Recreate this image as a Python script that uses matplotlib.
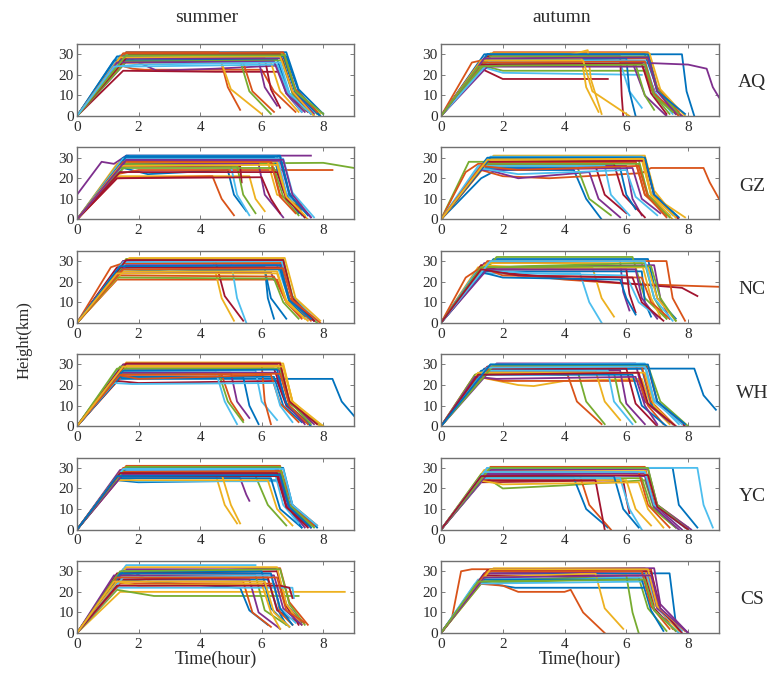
import matplotlib
matplotlib.use("Agg")
import matplotlib.pyplot as plt

# each track: t0,h0, t1,h1, ... (hours, km); (0,0) is prepended when the track starts later
AQ_SUMMER = [
    [1.6, 31, 6.8, 31, 7.2, 13, 8.0, 1],
    [1.3, 25, 1.8, 23, 2.2, 22.5, 6.0, 22.5, 6.4, 12, 7.1, 2],
    [1.7, 30.5, 6.7, 30.5, 7.1, 12, 7.9, 1],
    [1.7, 28, 2.6, 22, 4.5, 23, 6.5, 24.5, 6.8, 11, 7.3, 2],
    [1.5, 30, 6.75, 30, 7.1, 12, 7.8, 1],
    [1.4, 29.5, 6.6, 29.5, 7.0, 12, 7.7, 2],
    [1.5, 22, 4.5, 21.5, 6.6, 21.5, 6.9, 10, 7.5, 2],
    [1.6, 29, 6.7, 29, 7.1, 11, 7.9, 0],
    [1.6, 31, 4.6, 31, 4.9, 14, 5.3, 3],
    [1.5, 29, 4.6, 30, 5.0, 13, 6.0, 1],
    [1.6, 27, 5.9, 27, 6.1, 14, 6.5, 5],
    [1.4, 27, 5.3, 27, 5.6, 12, 6.3, 1],
    [1.3, 28, 6.6, 28.5, 7.0, 11, 7.6, 2],
    [1.4, 28, 6.1, 28, 6.3, 13, 6.6, 4],
    [1.2, 27, 6.5, 27.5, 6.9, 11, 7.5, 3],
    [1.5, 26, 5.4, 26, 5.7, 12, 6.4, 2],
    [1.5, 26, 6.3, 26, 6.6, 12, 7.2, 2],
    [1.5, 28, 6.65, 28, 7.0, 12, 7.7, 1],
    [1.6, 26.5, 6.7, 27, 7.0, 11, 7.4, 3],
    [1.3, 25, 1.6, 24, 6.5, 25, 6.9, 10, 7.3, 2],
    [1.7, 30, 6.6, 30, 7.0, 12, 7.6, 1],
    [1.3, 29, 6.8, 29, 7.2, 12, 7.9, 0],
    [1.5, 30.5, 6.7, 31, 7.1, 13, 7.8, 2],
    [1.4, 28.5, 6.6, 29, 7.0, 12, 7.7, 0],
    [1.3, 26, 6.4, 26.5, 6.8, 11, 7.4, 2],
    [1.6, 29.5, 6.75, 29.5, 7.1, 12, 8.0, 1],
    [1.2, 24, 2.0, 25, 6.6, 26, 6.9, 11, 7.6, 1],
]
AQ_AUTUMN = [
    [1.5, 30, 7.8, 30, 7.95, 12, 8.2, 0],
    [1.7, 31, 6.7, 31, 7.0, 14, 7.7, 2],
    [1.6, 30.5, 6.75, 30.5, 7.1, 13, 7.9, 0],
    [1.3, 26, 6.3, 26, 8.0, 25, 8.6, 23, 8.8, 14, 9.0, 9],
    [1.2, 25, 2.0, 22, 6.6, 22, 6.9, 10, 7.4, 1],
    [1.3, 24, 2.0, 21, 6.5, 20],
    [1.3, 23, 2.0, 18, 5.4, 18],
    [1.4, 30, 6.6, 30, 7.0, 13, 7.6, 1],
    [1.0, 26, 1.3, 27, 6.7, 28, 7.0, 12, 7.8, 0],
    [1.5, 27, 4.0, 29, 4.75, 32, 4.85, 18, 5.2, 1],
    [1.5, 26, 6.2, 26, 6.6, 10, 7.3, 0],
    [1.4, 25, 6.3, 25, 6.6, 10, 6.9, 3],
    [1.3, 26, 5.8, 26, 6.1, 12, 6.5, 4],
    [1.5, 29, 5.8, 29, 5.85, 10, 5.9, 0],
    [1.4, 27, 6.0, 28, 6.1, 12, 6.3, 0],
    [1.3, 25, 6.5, 25, 6.9, 10, 7.6, 1],
    [1.4, 28, 4.55, 28, 4.7, 14, 5.1, 2],
    [1.5, 24, 6.6, 24, 7.0, 9, 7.8, 0],
    [1.6, 29, 6.7, 29, 7.0, 13, 7.7, 1],
    [1.6, 27, 6.6, 27, 6.9, 12, 7.5, 1],
    [1.2, 25, 6.5, 25.5, 6.8, 11, 7.3, 1],
    [1.5, 30, 6.7, 30, 7.0, 12, 7.9, 1],
    [1.3, 26, 6.6, 26.5, 6.9, 11, 7.7, 0],
    [1.3, 27, 4.6, 27, 4.9, 12, 6.1, 0],
    [1.4, 28, 6.7, 28.5, 7.0, 12, 7.6, 1],
    [1.2, 24, 2.0, 24.5, 6.6, 25, 6.9, 10, 7.5, 2],
]
GZ_SUMMER = [
    [1.5, 25, 2.3, 22, 4.9, 24, 5.1, 12, 5.5, 4],
    [1.3, 22, 2.0, 24, 8.3, 24],
    [1.3, 21, 5.6, 21, 5.8, 10, 6.1, 4],
    [0, 12, 0.8, 28, 1.2, 27, 1.6, 31, 7.6, 31],
    [1.7, 28, 3.0, 27, 8.0, 27.5, 9.0, 25],
    [1.4, 26, 5.0, 26, 5.2, 12, 5.6, 2],
    [1.4, 26, 5.3, 26, 5.35, 18],
    [1.6, 31, 6.6, 31, 6.9, 13, 7.4, 1],
    [1.3, 20, 4.4, 21, 4.7, 10, 5.1, 2],
    [1.3, 27, 6.2, 28, 6.5, 12, 7.3, 7],
    [1.5, 27, 5.9, 27, 6.1, 12, 6.7, 1],
    [1.5, 27, 5.2, 26, 5.4, 12, 5.8, 3],
    [1.7, 30.5, 6.5, 30.5, 6.8, 13, 7.3, 2],
    [1.3, 20, 6.0, 20.5, 6.3, 10, 6.6, 3],
    [1.5, 30, 6.4, 30, 6.7, 14, 7.2, 3],
    [1.6, 29, 6.3, 29, 6.6, 12, 7.3, 5],
    [1.4, 28, 6.5, 28, 6.8, 11, 7.5, 0],
    [1.6, 28.5, 6.6, 28.5, 6.9, 12, 7.6, 1],
    [1.4, 25, 6.4, 25, 6.7, 11, 7.2, 2],
    [1.5, 29.5, 6.7, 29.5, 7.0, 13, 7.7, 1],
    [1.4, 23, 6.5, 23, 6.8, 10, 7.4, 1],
    [1.6, 30.5, 6.6, 30.5, 6.9, 12, 7.5, 2],
    [1.5, 28, 6.3, 28, 6.6, 11, 7.1, 3],
    [1.4, 26, 6.5, 26.5, 6.8, 11, 7.4, 2],
    [1.6, 29, 6.7, 29, 7.0, 12, 7.6, 1],
]
GZ_AUTUMN = [
    [1.3, 20, 1.8, 24, 4.3, 24, 4.7, 10, 5.2, 0],
    [1.3, 24, 2.0, 21, 3.5, 20, 6.5, 22.5, 6.8, 25, 8.5, 25, 8.7, 18, 9.0, 10],
    [1.7, 31, 6.6, 31, 6.9, 14, 7.6, 1],
    [1.3, 25, 2.5, 20, 4.8, 23, 5.1, 10, 5.8, 1],
    [0.9, 28, 1.3, 28, 6.4, 29, 6.7, 12, 7.4, 2],
    [1.6, 30.5, 6.5, 30.5, 6.8, 13, 7.5, 2],
    [1.3, 26, 5.0, 26, 5.3, 12, 6.0, 3],
    [1.5, 30, 6.6, 30, 6.9, 12, 7.7, 1],
    [0.8, 23, 1.2, 27, 6.3, 28, 6.6, 12, 7.3, 3],
    [1.6, 29.5, 6.5, 29.5, 6.8, 12, 7.9, 1],
    [1.4, 26, 6.0, 26, 6.2, 10, 6.5, 2],
    [1.4, 26, 4.4, 26, 4.8, 10, 5.5, 2],
    [1.2, 26, 5.3, 26, 5.5, 12, 6.1, 2],
    [1.4, 27, 5.6, 27, 5.9, 12, 6.6, 1],
    [1.3, 25, 5.8, 25, 6.0, 12, 6.3, 5],
    [1.5, 28, 6.3, 28, 6.6, 12, 7.3, 2],
    [1.6, 29, 6.5, 29, 6.8, 12, 7.5, 0],
    [1.3, 24, 6.2, 25, 6.5, 10, 7.1, 3],
    [1.4, 27, 6.4, 27, 6.7, 11, 7.4, 1],
    [1.2, 25, 2.5, 22, 6.0, 24, 6.3, 11, 7.0, 2],
    [1.5, 28, 6.6, 28.5, 6.9, 12, 7.7, 0],
    [1.6, 30, 6.6, 30, 6.9, 12, 7.6, 2],
    [1.3, 26, 2.5, 24, 6.4, 26, 6.7, 11, 7.3, 1],
    [1.5, 29, 6.55, 29.5, 6.8, 12, 7.6, 1],
]
NC_SUMMER = [
    [1.4, 27, 6.1, 27, 6.2, 12, 6.4, 2],
    [1.3, 21, 6.5, 21, 6.8, 10, 7.3, 2],
    [1.6, 31, 4.4, 31, 4.7, 12, 5.1, 1],
    [1.4, 24, 6.3, 24.5, 6.4, 21],
    [1.6, 31, 6.7, 31, 7.0, 13, 7.7, 2],
    [1.5, 30, 5.0, 30, 5.2, 12, 5.5, 0],
    [1.5, 30, 4.5, 30, 4.8, 13, 5.4, 1],
    [1.4, 26, 6.1, 26, 6.3, 12, 6.8, 2],
    [1.4, 23, 6.4, 22.5, 6.8, 10, 7.3, 3],
    [1.7, 31.5, 6.75, 31.5, 7.1, 12, 7.9, 1],
    [1.5, 30, 6.6, 30, 7.0, 12, 7.6, 2],
    [1.6, 29, 6.7, 29, 7.0, 11, 7.8, 0],
    [1.4, 28, 6.5, 28, 6.9, 11, 7.5, 2],
    [1.3, 27, 6.6, 27, 6.9, 12, 7.7, 1],
    [1.5, 26, 3.0, 25, 6.6, 26, 6.9, 10, 7.4, 3],
    [1.1, 27, 1.5, 29, 6.6, 29, 6.9, 12, 7.6, 1],
    [1.5, 25, 6.5, 25, 6.8, 11, 7.4, 2],
    [1.6, 28, 6.7, 28, 7.0, 11, 7.7, 1],
    [1.3, 22, 6.4, 21.5, 6.7, 10, 7.2, 2],
    [1.5, 29.5, 6.65, 30, 7.0, 12, 7.8, 1],
    [1.6, 30.5, 6.7, 30.5, 7.0, 12, 7.7, 1],
    [1.4, 27.5, 6.6, 28, 6.9, 11, 7.6, 2],
    [1.5, 26, 6.7, 26.5, 7.0, 11, 7.9, 0],
    [1.3, 24, 6.5, 24, 6.8, 10, 7.5, 1],
]
NC_AUTUMN = [
    [1.7, 31, 6.7, 31, 7.0, 12, 7.6, 2],
    [1.3, 28, 2.0, 24, 4.0, 21, 6.0, 19, 9.0, 17.5],
    [1.2, 27, 4.9, 27, 5.2, 12, 5.6, 3],
    [1.4, 29, 5.8, 30, 5.9, 15, 6.1, 6],
    [1.8, 32, 6.2, 32, 6.6, 12, 7.3, 2],
    [1.3, 24, 4.5, 24, 4.8, 10, 5.2, 0],
    [1.3, 28, 2.2, 24, 4.5, 21, 7.8, 17, 8.3, 13],
    [1.4, 25, 6.5, 25, 6.6, 10, 6.8, 3],
    [1.5, 30, 7.3, 30, 7.5, 12, 7.9, 1],
    [1.5, 29, 6.5, 29, 6.8, 12, 7.1, 3],
    [1.3, 27, 6.9, 28, 7.1, 12, 7.4, 2],
    [1.3, 27, 6.6, 29, 6.9, 12, 7.3, 2],
    [1.2, 26, 3.0, 24, 6.0, 23, 6.4, 10, 7.0, 3],
    [1.3, 26, 6.0, 26, 6.1, 14, 6.3, 5],
    [1.2, 25, 2.0, 22, 5.8, 21, 6.0, 12, 6.3, 4],
    [0.8, 22, 1.3, 27, 2.0, 23, 6.5, 22, 6.8, 10, 7.4, 2],
    [1.4, 28, 3.5, 26, 6.7, 27, 7.0, 12, 7.6, 1],
    [1.5, 26, 6.3, 26, 6.5, 12, 7.0, 2],
    [1.3, 27, 6.8, 27.5, 7.1, 12, 7.6, 1],
    [1.6, 30, 6.6, 30, 6.9, 12, 7.5, 1],
    [1.3, 26, 2.5, 23, 6.2, 22, 6.5, 10, 7.2, 1],
]
WH_SUMMER = [
    [1.3, 23, 6.7, 23, 8.3, 23, 8.6, 12, 9.0, 5],
    [1.5, 25, 4.7, 25, 5.0, 12, 5.4, 3],
    [1.6, 31, 6.6, 31, 6.9, 13, 7.6, 2],
    [1.4, 26, 5.0, 26, 5.2, 12, 5.6, 4],
    [1.4, 26, 4.6, 26, 4.9, 12, 5.4, 2],
    [1.3, 27, 5.8, 27, 6.0, 12, 6.5, 3],
    [1.3, 22, 2.0, 21, 6.5, 22, 6.8, 10, 7.4, 2],
    [1.4, 24, 5.4, 24, 5.6, 10, 5.9, 1],
    [1.5, 30, 6.0, 30, 6.1, 12, 6.3, 1],
    [1.7, 30.5, 6.7, 30.5, 7.0, 12, 7.9, 0],
    [1.5, 30, 6.5, 30, 6.9, 12, 7.7, 1],
    [1.4, 29, 6.6, 29, 6.9, 11, 8.0, 0],
    [1.3, 27, 4.5, 27, 4.8, 12, 5.2, 1],
    [1.4, 28, 6.4, 28, 6.8, 11, 7.5, 2],
    [1.4, 24, 6.4, 24, 6.7, 10, 7.3, 2],
    [1.3, 25, 2.0, 23, 6.3, 25, 6.6, 11, 7.2, 2],
    [1.6, 29.5, 6.7, 29.5, 7.0, 12, 7.8, 1],
    [1.4, 26, 6.5, 26, 6.8, 11, 7.4, 1],
    [1.3, 28, 6.6, 28, 6.9, 12, 7.6, 1],
    [1.2, 21, 1.8, 20.5, 6.4, 21, 6.6, 10, 7.0, 2],
    [1.6, 30.5, 6.6, 30.5, 6.9, 12, 7.8, 1],
    [1.5, 27, 6.5, 27.5, 6.8, 11, 7.6, 0],
    [1.4, 25, 6.6, 25.5, 6.9, 10, 7.5, 1],
    [1.5, 29, 6.7, 29, 7.0, 12, 8.0, 0],
]
WH_AUTUMN = [
    [1.4, 28, 6.8, 28, 8.2, 28, 8.5, 15, 8.9, 8],
    [1.1, 25, 2.0, 26, 4.1, 25, 4.4, 12, 5.2, 1],
    [1.2, 24, 2.5, 20, 3.0, 19.5, 4.0, 22, 6.5, 23, 6.8, 10, 7.4, 1],
    [1.8, 30.5, 6.3, 30.5, 6.6, 12, 7.4, 2],
    [1.1, 25, 1.6, 28, 4.4, 28, 4.7, 12, 5.3, 1],
    [1.6, 30, 6.6, 30.5, 6.9, 13, 7.7, 1],
    [1.5, 29, 6.7, 29, 7.0, 12, 7.9, 0],
    [1.3, 27, 6.5, 28, 6.8, 11, 7.5, 1],
    [1.2, 24, 2.0, 22, 6.4, 22, 6.7, 10, 7.2, 1],
    [1.3, 26, 5.0, 27, 5.3, 12, 5.8, 3],
    [1.4, 27, 5.8, 27, 6.0, 11, 6.6, 1],
    [1.3, 26, 5.6, 26, 5.8, 12, 6.3, 2],
    [1.4, 27, 5.4, 27, 5.6, 12, 6.2, 1],
    [1.5, 28, 6.0, 28, 6.3, 11, 7.0, 0],
    [1.3, 25, 6.2, 25, 6.5, 10, 7.3, 0],
    [1.6, 29, 6.5, 29, 6.8, 12, 7.6, 0],
    [1.2, 26, 6.6, 26, 6.9, 10, 7.5, 1],
    [1.1, 24, 1.8, 23, 6.3, 24, 6.6, 10, 7.0, 1],
    [1.7, 29.5, 6.7, 29.5, 7.1, 12, 8.0, 0],
    [1.5, 28.5, 6.6, 29, 6.9, 12, 7.8, 1],
    [1.2, 25, 6.4, 26, 6.7, 11, 7.6, 0],
    [1.6, 30, 6.7, 30, 7.0, 12, 7.9, 1],
]
YC_SUMMER = [
    [1.3, 24, 2.0, 23, 6.6, 24, 6.9, 10, 7.3, 1],
    [1.6, 31, 6.6, 31, 6.9, 13, 7.6, 2],
    [1.4, 27, 4.5, 27, 4.8, 12, 5.2, 3],
    [1.3, 25, 5.3, 25, 5.5, 17, 5.6, 14],
    [1.4, 26, 5.8, 26, 6.2, 12, 6.8, 2],
    [1.3, 25, 2.0, 23.5, 6.7, 23.5, 7.0, 11, 7.5, 2],
    [1.7, 30.5, 6.5, 30.5, 6.9, 12, 7.7, 2],
    [1.3, 25, 6.3, 25, 6.6, 10, 7.3, 1],
    [1.5, 30, 6.6, 30, 7.0, 12, 7.8, 2],
    [1.4, 27, 4.7, 27, 5.0, 12, 5.3, 3],
    [1.4, 29, 6.5, 29, 6.8, 12, 7.4, 1],
    [1.5, 28, 6.6, 28, 6.9, 12, 7.6, 2],
    [1.5, 29, 6.4, 29, 6.7, 12, 7.2, 3],
    [1.3, 26, 6.5, 26, 6.8, 11, 7.5, 1],
    [1.6, 30, 6.7, 30, 7.0, 12, 7.8, 1],
    [1.4, 28, 6.6, 28.5, 6.9, 12, 7.7, 2],
    [1.2, 24, 6.2, 24, 6.5, 10, 7.0, 2],
    [1.5, 27, 6.6, 27, 6.9, 11, 7.6, 1],
    [1.6, 30.5, 6.6, 30.5, 6.9, 12, 7.7, 1],
    [1.5, 29.5, 6.7, 29.5, 7.0, 12, 7.8, 2],
    [1.4, 27.5, 6.5, 27.5, 6.8, 11, 7.5, 2],
    [1.3, 26, 6.6, 26.5, 6.9, 11, 7.6, 1],
]
YC_AUTUMN = [
    [1.5, 30, 7.5, 30, 7.7, 12, 8.3, 1],
    [1.6, 30.5, 6.6, 30.5, 6.9, 13, 7.9, 1],
    [1.4, 29, 6.6, 29, 7.0, 12, 8.0, 1],
    [1.6, 29, 6.7, 29.5, 7.0, 12, 8.1, 0],
    [1.3, 27, 2.0, 20, 4.0, 21.5, 6.6, 24, 6.9, 10, 7.6, 1],
    [1.5, 30, 8.3, 30, 8.5, 12, 8.8, 1],
    [1.3, 23, 5.9, 24, 6.0, 15, 6.1, 8],
    [1.3, 25, 4.3, 25, 4.7, 10, 5.4, 1],
    [1.4, 26, 4.5, 26, 4.8, 12, 5.5, 0],
    [1.3, 24, 6.0, 24, 6.3, 10, 6.8, 2],
    [1.4, 27, 6.6, 27.5, 6.9, 12, 7.8, 0],
    [1.3, 25, 6.5, 25, 6.8, 11, 7.6, 1],
    [1.4, 25, 5.8, 25, 6.1, 10, 6.5, 0],
    [1.3, 24, 5.0, 24, 5.2, 8, 5.3, 0],
    [1.4, 26, 5.6, 26, 5.9, 10, 6.4, 1],
    [1.5, 28, 6.4, 28, 6.7, 12, 7.4, 1],
    [1.2, 24, 2.0, 22, 6.4, 23, 6.7, 10, 7.2, 1],
    [1.5, 27, 6.6, 26, 6.9, 11, 7.7, 0],
    [1.6, 30, 6.7, 30, 7.0, 12, 8.0, 0],
    [1.4, 28, 6.6, 28, 6.9, 12, 7.9, 1],
    [1.3, 26, 6.7, 26.5, 7.0, 11, 8.0, 0],
]
CS_SUMMER = [
    [1.4, 28, 1.9, 29, 2.3, 26, 6.2, 26, 6.5, 12, 6.8, 4],
    [1.4, 29, 6.6, 31.5, 6.9, 15, 7.5, 4],
    [1.4, 20, 8.7, 20],
    [1.5, 31, 6.5, 31, 6.8, 14, 7.3, 5],
    [1.3, 21, 2.5, 18, 7.2, 18],
    [1.6, 33, 5.8, 33],
    [1.3, 29, 6.5, 30, 6.8, 13, 7.2, 4],
    [1.3, 26, 5.3, 22, 5.6, 11, 6.2, 4],
    [1.3, 25, 5.4, 25, 5.7, 10, 6.3, 3],
    [1.6, 32, 6.5, 32, 6.8, 14, 7.3, 4],
    [1.4, 27, 5.6, 26, 5.9, 10, 6.6, 2],
    [1.3, 28, 5.8, 28, 6.1, 11, 6.8, 4],
    [1.3, 22, 7.0, 22, 7.05, 17],
    [1.3, 26, 6.2, 27, 6.5, 11, 7.2, 5],
    [1.5, 30, 6.0, 30, 6.3, 12, 6.9, 3],
    [1.4, 24, 6.4, 24, 6.6, 10, 7.0, 4],
    [1.3, 25, 2.0, 23, 6.0, 24, 6.3, 10, 6.6, 2],
    [1.2, 28, 6.4, 28, 6.7, 12, 7.3, 4],
    [1.4, 30, 6.6, 31, 6.9, 14, 7.4, 4],
    [1.5, 27, 6.3, 28, 6.6, 12, 7.1, 5],
    [1.3, 23, 6.6, 23, 6.9, 22, 7.0, 17],
    [1.4, 29, 6.3, 29, 6.6, 12, 7.0, 4],
    [1.3, 27, 6.5, 27, 6.8, 11, 7.4, 5],
    [1.2, 25, 6.1, 25, 6.4, 10, 6.9, 3],
]
CS_AUTUMN = [
    [1.4, 29, 7.4, 29, 7.6, 5],
    [0.35, 7, 0.65, 30, 1.0, 31, 6.8, 31, 7.0, 14, 7.5, 2],
    [1.7, 31.5, 6.6, 31.5, 6.9, 14, 7.7, 1],
    [1.6, 31, 6.9, 31.5, 7.1, 14, 8.0, 0],
    [1.3, 24, 3.0, 25, 6.4, 27, 6.7, 12, 7.3, 1],
    [1.2, 26, 6.7, 27, 7.0, 12, 7.8, 1],
    [1.4, 28, 6.6, 28, 6.9, 12, 7.6, 1],
    [1.2, 25, 2.4, 22, 6.6, 22],
    [1.2, 24, 2.0, 23, 2.5, 20, 4.0, 20, 4.2, 21, 4.6, 10, 5.3, 0],
    [1.3, 27, 5.0, 29, 5.3, 12, 5.9, 2],
    [1.4, 29, 6.7, 30, 7.0, 12, 7.9, 1],
    [1.3, 25, 6.0, 28, 6.2, 10, 6.4, 0],
    [1.1, 24, 6.6, 25, 6.9, 11, 7.7, 0],
    [1.5, 30.5, 6.8, 30, 7.1, 12, 7.8, 0],
    [1.3, 26, 6.5, 26, 6.8, 11, 7.2, 1],
    [1.5, 30, 6.5, 30, 6.8, 13, 7.4, 2],
    [1.6, 31, 6.7, 31, 7.0, 13, 7.9, 1],
    [1.4, 27, 6.8, 28, 7.1, 12, 8.0, 0],
    [1.2, 25, 6.6, 26, 6.9, 11, 7.6, 1],
]

STATIONS = ['AQ', 'GZ', 'NC', 'WH', 'YC', 'CS']
SEASONS = ['summer', 'autumn']
PANELS = [
    [AQ_SUMMER, AQ_AUTUMN],
    [GZ_SUMMER, GZ_AUTUMN],
    [NC_SUMMER, NC_AUTUMN],
    [WH_SUMMER, WH_AUTUMN],
    [YC_SUMMER, YC_AUTUMN],
    [CS_SUMMER, CS_AUTUMN],
]

# matlab default line colours
COLORS = ['#0072BD', '#D95319', '#EDB120', '#7E2F8E', '#77AC30', '#4DBEEE', '#A2142F']

plt.rcParams['font.family'] = ['Liberation Serif', 'DejaVu Serif']
TEXT = '#2b2b2b'

W, H = 771, 676
fig = plt.figure(figsize=(W / 100, H / 100), dpi=100)

col_left = [77, 441]
ax_w = [277, 278]
ax_h = 72
row_top = [44, 147.4, 250.8, 354.2, 457.6, 561]

for r, station in enumerate(STATIONS):
    for c in range(2):
        ax = fig.add_axes([col_left[c] / W, 1 - (row_top[r] + ax_h) / H, ax_w[c] / W, ax_h / H])
        ax.set_prop_cycle(color=COLORS)
        for tr in PANELS[r][c]:
            t = list(tr[0::2])
            h = list(tr[1::2])
            if t[0] > 0:
                t = [0] + t
                h = [0] + h
            ax.plot(t, h, lw=1.3, solid_joinstyle='round')
        ax.set_xlim(0, 9)
        ax.set_ylim(0, 35)
        ax.set_xticks([0, 2, 4, 6, 8])
        ax.set_yticks([0, 10, 20, 30])
        ax.tick_params(direction='in', top=True, right=True, length=3, width=0.6,
                       labelsize=11, colors='#666666', labelcolor=TEXT)
        ax.tick_params(axis='x', pad=3.5)
        ax.tick_params(axis='y', pad=2.5)
        for s in ax.spines.values():
            s.set_color('#707070')
            s.set_linewidth(1.0)
        if r == len(STATIONS) - 1:
            ax.set_xlabel('Time(hour)', fontsize=13, color=TEXT, labelpad=0)
    fig.text(752 / W, 1 - (row_top[r] + ax_h / 2 + 3) / H, station, fontsize=14,
             color=TEXT, ha='center', va='center')

fig.text(207 / W, 1 - 18 / H, SEASONS[0], fontsize=14, color=TEXT, ha='center', va='center')
fig.text(562 / W, 1 - 18 / H, SEASONS[1], fontsize=14, color=TEXT, ha='center', va='center')
fig.text(25 / W, 1 - 340 / H, 'Height(km)', fontsize=12, color=TEXT, ha='center',
         va='center', rotation=90)

fig.savefig('out.png', dpi=100)
